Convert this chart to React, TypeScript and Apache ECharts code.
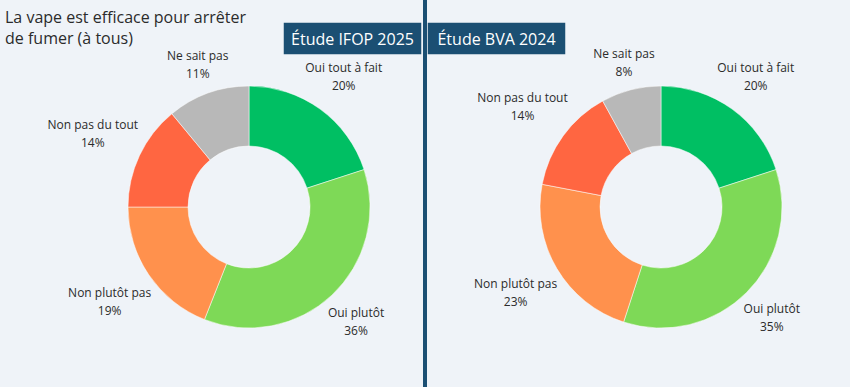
import React, { useEffect, useRef } from "react";
import * as echarts from "echarts";

const categories = ["Oui tout à fait", "Oui plutôt", "Non plutôt pas", "Non pas du tout", "Ne sait pas"];
const ifop2025 = [20, 36, 19, 14, 11];
const bva2024 = [20, 35, 23, 14, 8];
const studyTitles = ["Étude IFOP 2025", "Étude BVA 2024"];
const chartTitle = "La vape est efficace pour arrêter\nde fumer (à tous)";
const colors = ["#00bf63", "#7ed957", "#ff914d", "#ff6641", "#b8b8b8"];

const BG = "#eff3f8";
const BADGE = "#1b4f73";
const TEXT = "#2b2b2b";
const FONT = "'Open Sans', 'Noto Sans', sans-serif";

const centers: [number, number][] = [
  [249, 207],
  [661, 207],
];
const R_OUT = 121;
const R_IN = 61;
const GAP = 3;

const seriesData = [ifop2025, bva2024];

export default function App() {
  const ref = useRef<HTMLDivElement>(null);
  useEffect(() => {
    if (!ref.current) return;
    const chart = echarts.init(ref.current, undefined, { renderer: "svg" });

    const makeLayout = (si: number) => (params: any) => {
      const vals = seriesData[si];
      const total = vals.reduce((a, b) => a + b, 0);
      let cum = 0;
      for (let i = 0; i < params.dataIndex; i++) cum += vals[i];
      const mid = (cum + vals[params.dataIndex] / 2) / total;
      const th = mid * Math.PI * 2;
      const dx = Math.sin(th);
      const dy = -Math.cos(th);
      const w = params.labelRect.width;
      const h = params.labelRect.height;
      const dist = R_OUT + GAP + Math.abs(dx) * w / 2 + Math.abs(dy) * h / 2;
      const [cx, cy] = centers[si];
      return {
        x: cx + dx * dist,
        y: cy + dy * dist,
        align: "center",
        verticalAlign: "middle",
      };
    };

    const mkSeries = (si: number) => ({
      type: "pie",
      center: centers[si],
      radius: [R_IN, R_OUT],
      startAngle: 90,
      clockwise: true,
      avoidLabelOverlap: false,
      silent: true,
      data: categories.map((c, i) => ({
        name: c,
        value: seriesData[si][i],
        itemStyle: { color: colors[i] },
      })),
      itemStyle: { borderColor: "#ffffff", borderWidth: 0.5 },
      label: {
        show: true,
        position: "outside",
        formatter: "{b}\n{c}%",
        fontSize: 12,
        lineHeight: 18,
        color: TEXT,
        fontFamily: FONT,
      },
      labelLine: { show: false, length: 4, length2: 0 },
      labelLayout: makeLayout(si),
    });

    const badge = (x: number, label: string) => ({
      type: "group",
      x,
      y: 22,
      children: [
        {
          type: "rect",
          shape: { x: 0, y: 0, width: 139, height: 33 },
          style: { fill: BADGE, stroke: BG, lineWidth: 1.5 },
        },
        {
          type: "text",
          x: 69.5,
          y: 17,
          style: {
            text: label,
            fill: "#ffffff",
            font: `16px ${FONT}`,
            align: "center",
            verticalAlign: "middle",
          },
        },
      ],
    });

    chart.setOption({
      animation: false,
      backgroundColor: BG,
      title: {
        text: chartTitle,
        left: 5,
        top: 6,
        padding: 0,
        textStyle: {
          fontSize: 16,
          lineHeight: 21,
          fontWeight: "normal",
          color: TEXT,
          fontFamily: FONT,
        },
      },
      graphic: [
        {
          type: "rect",
          shape: { x: 423, y: 0, width: 4, height: 387 },
          style: { fill: BADGE },
          z: 10,
        },
        { ...badge(283, studyTitles[0]), z: 11 },
        { ...badge(427, studyTitles[1]), z: 11 },
      ],
      series: [mkSeries(0), mkSeries(1)],
    });

    return () => chart.dispose();
  }, []);

  return (
    <div
      ref={ref}
      style={{ position: "fixed", left: 0, top: 0, width: 850, height: 387 }}
    />
  );
}
